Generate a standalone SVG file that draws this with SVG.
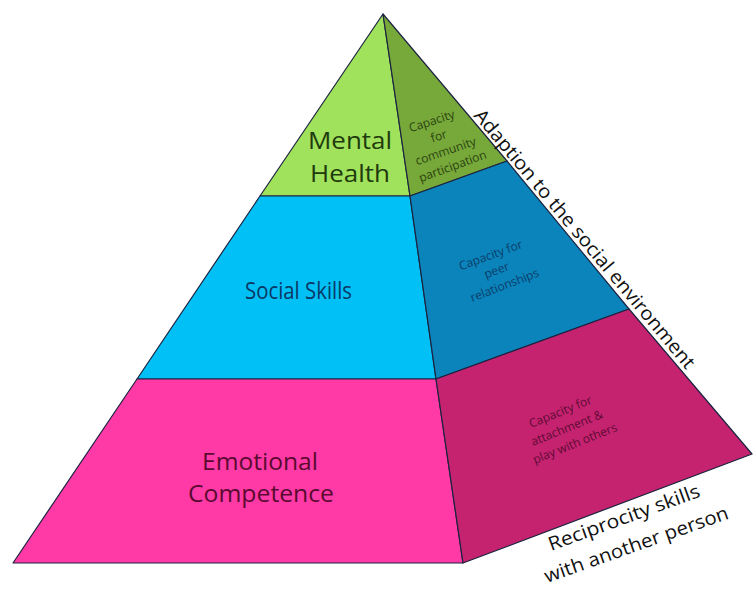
<svg xmlns="http://www.w3.org/2000/svg" width="753" height="589" viewBox="0 0 753 589">
<style>
.face{stroke:#1c2340;stroke-width:1.2;stroke-linejoin:round}
.t{font-family:"Open Sans","Liberation Sans",sans-serif}
.big{font-size:24px;text-anchor:start}
.sm{font-size:12px}
.side{font-size:19px;fill:#111}
</style>
<rect width="753" height="589" fill="#fff"/>
<g id="mental-health">
<polygon class="face" points="383,14 410,196 260,196" fill="#a0e25c"/>
<text class="t big" x="308" y="149" fill="#1f3a0c" textLength="84" lengthAdjust="spacingAndGlyphs">Mental</text>
<text class="t big" x="310" y="182" fill="#1f3a0c" textLength="80" lengthAdjust="spacingAndGlyphs">Health</text>
</g>
<g id="social-skills">
<polygon class="face" points="260,196 410,196 436,379 137,379" fill="#00c0f6"/>
<text class="t big" x="245" y="299" fill="#0b3866" textLength="107" lengthAdjust="spacingAndGlyphs">Social Skills</text>
</g>
<g id="emotional-competence">
<polygon class="face" points="137,379 436,379 463,563 13,563" fill="#ff3aa6"/>
<text class="t big" x="202" y="470" fill="#5a0a30" textLength="116" lengthAdjust="spacingAndGlyphs">Emotional</text>
<text class="t big" x="188" y="502" fill="#5a0a30" textLength="146" lengthAdjust="spacingAndGlyphs">Competence</text>
</g>
<g id="community">
<polygon class="face" points="383,14 507,161 410,196" fill="#77a83a"/>
<g class="t sm" fill="#2a4410" text-anchor="middle">
<text transform="rotate(-18 433 125)" x="433" y="125">Capacity</text>
<text transform="rotate(-18 440 140)" x="440" y="140">for</text>
<text transform="rotate(-19 447 155)" x="447" y="155">community</text>
<text transform="rotate(-20 454 170)" x="454" y="170">participation</text>
</g>
</g>
<g id="peer">
<polygon class="face" points="410,196 507,161 629,309 436,379" fill="#0a84ba"/>
<g class="t sm" fill="#0b3e6c" text-anchor="middle">
<text transform="rotate(-20 492 259)" x="492" y="259">Capacity for</text>
<text transform="rotate(-20 498 274)" x="498" y="274">peer</text>
<text transform="rotate(-21 506 289)" x="506" y="289">relationships</text>
</g>
</g>
<g id="attachment">
<polygon class="face" points="436,379 629,309 752,454 463,563" fill="#c52370"/>
<g class="t sm" fill="#5e0a34">
<text transform="rotate(-22 531 428)" x="531" y="428">Capacity for</text>
<text transform="rotate(-22 533 446)" x="533" y="446">attachment  &amp;</text>
<text transform="rotate(-22 535 464)" x="535" y="464">play with others</text>
</g>
</g>
<g id="labels">
<text class="t side" transform="rotate(50 473 116)" x="473" y="116" textLength="332" lengthAdjust="spacingAndGlyphs">Adaption to the social environment</text>
<text class="t side" transform="rotate(-20 551 551)" x="551" y="551" textLength="160" lengthAdjust="spacingAndGlyphs">Reciprocity skills</text>
<text class="t side" transform="rotate(-19.5 547 583)" x="547" y="583" textLength="194" lengthAdjust="spacingAndGlyphs">with another person</text>
</g>
</svg>
